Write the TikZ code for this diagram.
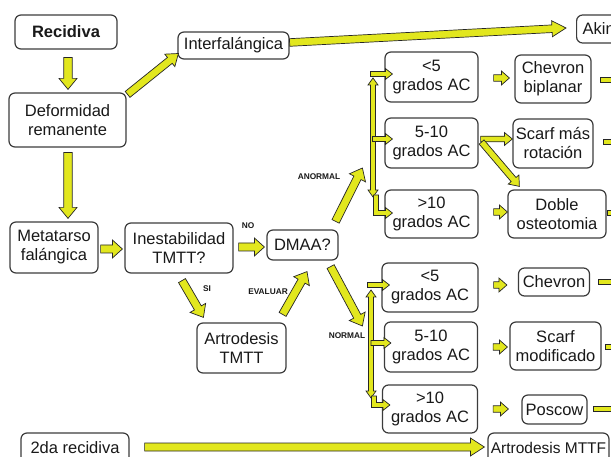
\documentclass[tikz,border=0pt]{standalone}
\usepackage{fontspec}
\setmainfont{Liberation Sans}
\usetikzlibrary{calc}
\definecolor{ayel}{RGB}{226,231,30}
\definecolor{bline}{RGB}{60,60,60}
\definecolor{txt}{RGB}{25,25,25}
\tikzset{
  bx/.style={draw=bline, line width=1.2pt, rounded corners=6pt, fill=white, align=center, text=txt, inner sep=0pt, font=\fontsize{16.5}{19}\selectfont},
  lbl/.style={font=\bfseries\fontsize{8.3}{9}\selectfont, text=txt, inner sep=0pt},
  fat/.style={fill=ayel, draw=black!85, line width=0.7pt, line join=miter},
}
\newcommand\fatarrow[5]{%
  \coordinate (faA) at (#1);
  \coordinate (faB) at (#2);
  \coordinate (faH) at ($(faB)!#5!(faA)$);
  \filldraw[fat] ($(faA)!#3!90:(faB)$) -- ($(faH)!#3!90:(faB)$) -- ($(faH)!#4!90:(faB)$) -- (faB) -- ($(faH)!#4!-90:(faB)$) -- ($(faH)!#3!-90:(faB)$) -- ($(faA)!#3!-90:(faB)$) -- cycle;
}
\newcommand\fatdarrow[5]{%
  \coordinate (faA) at (#1);
  \coordinate (faB) at (#2);
  \coordinate (faH) at ($(faB)!#5!(faA)$);
  \coordinate (faG) at ($(faA)!#5!(faB)$);
  \filldraw[fat] (faA) -- ($(faG)!#4!90:(faB)$) -- ($(faG)!#3!90:(faB)$) -- ($(faH)!#3!90:(faB)$) -- ($(faH)!#4!90:(faB)$) -- (faB) -- ($(faH)!#4!-90:(faB)$) -- ($(faH)!#3!-90:(faB)$) -- ($(faG)!#3!-90:(faB)$) -- ($(faG)!#4!-90:(faB)$) -- cycle;
}
% elbow: down from #1, then right to #2
\newcommand\fatelbow[2]{%
  \filldraw[fat] let \p1=(#1), \p2=(#2) in
    (\x1-2.5pt,\y1) -- (\x1-2.5pt,\y2-2.5pt) -- (\x2-7pt,\y2-2.5pt) -- (\x2-7pt,\y2-5.5pt) -- (\x2,\y2) -- (\x2-7pt,\y2+5.5pt) -- (\x2-7pt,\y2+2.5pt) -- (\x1+2.5pt,\y2+2.5pt) -- (\x1+2.5pt,\y1) -- cycle;
}
\begin{document}
\begin{tikzpicture}[x=1pt,y=-1pt]
\useasboundingbox (0,0) rectangle (611,457);
\clip (0,0) rectangle (611,457);
\fill[white] (0,0) rectangle (611,457);

% nodes
\node[bx, minimum width=102pt, minimum height=34pt, font=\bfseries\fontsize{16.5}{19}\selectfont] (rec) at (66,32) {Recidiva};
\node[bx, minimum width=117pt, minimum height=54pt] (def) at (67.5,120) {Deformidad\\remanente};
\node[bx, minimum width=111pt, minimum height=27pt] (inter) at (233.5,45.5) {Interfalángica};
\node[bx, anchor=west, inner xsep=6pt, minimum height=28pt] (akin) at (576,29) {Akin\hspace{20pt}};
\node[bx, minimum width=88pt, minimum height=51pt] (met) at (54,247.5) {Metatarso\\falángica};
\node[bx, minimum width=108pt, minimum height=50pt] (ine) at (179,248) {Inestabilidad\\TMTT?};
\node[bx, minimum width=71pt, minimum height=30pt] (dmaa) at (302.5,245) {DMAA?};
\node[bx, minimum width=89pt, minimum height=50pt] (art) at (241.5,348) {Artrodesis\\TMTT};

\node[bx, minimum width=93pt, minimum height=50pt] (u1) at (431.5,77) {<5\\grados AC};
\node[bx, minimum width=93pt, minimum height=50pt] (u2) at (431.5,143) {5-10\\grados AC};
\node[bx, minimum width=93pt, minimum height=48pt] (u3) at (431.5,214) {>10\\grados AC};
\node[bx, minimum width=76pt, minimum height=48pt] (cb) at (553,79) {Chevron\\biplanar};
\node[bx, minimum width=80pt, minimum height=49pt] (sm) at (553,143.5) {Scarf más\\rotación};
\node[bx, minimum width=98pt, minimum height=48pt] (do) at (557,214) {Doble\\osteotomia};

\node[bx, minimum width=96pt, minimum height=49pt] (l1) at (430,287.5) {<5\\grados AC};
\node[bx, minimum width=93pt, minimum height=50pt] (l2) at (431,347) {5-10\\grados AC};
\node[bx, minimum width=95pt, minimum height=48pt] (l3) at (430,409) {>10\\grados AC};
\node[bx, minimum width=71pt, minimum height=28pt] (ch) at (554,282) {Chevron};
\node[bx, minimum width=91pt, minimum height=48pt] (smod) at (555.5,346) {Scarf\\modificado};
\node[bx, minimum width=65pt, minimum height=29pt] (pos) at (554.5,409.5) {Poscow};

\node[bx, minimum width=108pt, minimum height=30pt] (r2) at (75,448) {2da recidiva};
\node[bx, minimum width=121pt, minimum height=30pt, font=\fontsize{15.5}{18}\selectfont] (amttf) at (548.5,448) {Artrodesis MTTF};

% labels
\node[lbl] (lno) at (248,226) {NO};
\node[lbl] (lsi) at (207,289) {SI};
\node[lbl] (lev) at (268,292) {EVALUAR};
\node[lbl] (lan) at (319,177) {ANORMAL};
\node[lbl] (lnor) at (347,336) {NORMAL};

% main arrows
\fatarrow{$(rec.south)+(2,8)$}{$(def.north)+(0.5,-3)$}{4.2pt}{9pt}{11pt}
\fatarrow{$(def.south)+(0.5,5)$}{$(met.north)+(14,-3)$}{4.2pt}{9pt}{11pt}
\fatarrow{$(def.north east)+(1,2)$}{$(inter.west)+(1,8)$}{3.8pt}{8pt}{11pt}
\fatarrow{$(inter.east)+(0,-3)$}{$(akin.west)+(-10,-1)$}{3.8pt}{8pt}{14pt}
\fatarrow{$(met.east)+(2,1.5)$}{$(ine.west)+(-2,1)$}{4pt}{9pt}{10pt}
\fatarrow{$(ine.east)+(5,-1)$}{$(dmaa.west)+(-2,2)$}{4pt}{9pt}{10pt}
\fatarrow{$(ine.south)+(3,7)$}{$(art.north west)+(7,-5)$}{4pt}{9pt}{11pt}
\fatarrow{$(art.north east)+(-4,-8)$}{$(dmaa.south)+(4.5,11)$}{4pt}{9pt}{11pt}
\fatarrow{$(dmaa.north east)+(-3,-8)$}{$(u3.west)+(-22,-46)$}{4pt}{9pt}{11pt}
\fatarrow{$(dmaa.south east)+(-8,6)$}{$(l2.west)+(-21.5,-21)$}{4pt}{9pt}{11pt}
\fatarrow{$(r2.east)+(15,-1)$}{$(amttf.west)+(-3,-1)$}{4pt}{9pt}{14pt}

% upper bracket
\coordinate (ubt) at (373,78);
\coordinate (ubb) at (373,197);
\fatdarrow{ubt}{ubb}{2.5pt}{5pt}{7pt}
\fatarrow{$(u1.west)+(-14,-3)$}{$(u1.west)+(8,-3)$}{2.5pt}{5.5pt}{7pt}
\fatarrow{$(u2.west)+(-12,-4)$}{$(u2.west)+(8,-4)$}{2.5pt}{5.5pt}{7pt}
\fatelbow{$(ubb)+(3,-2)$}{$(u3.west)+(8,-1)$}

% lower bracket
\coordinate (lbt) at (371,290);
\coordinate (lbb) at (371,398);
\fatdarrow{lbt}{lbb}{2.5pt}{5pt}{7pt}
\fatarrow{$(l1.west)+(-14,-2.5)$}{$(l1.west)+(8,-2.5)$}{2.5pt}{5.5pt}{7pt}
\fatarrow{$(l2.west)+(-13,-4)$}{$(l2.west)+(7,-4)$}{2.5pt}{5.5pt}{7pt}
\fatelbow{$(lbb)+(3,-2)$}{$(l3.west)+(8,-4)$}

% small arrows
\fatarrow{$(u1.east)+(15,1)$}{$(cb.west)+(-5,-1)$}{3.2pt}{7pt}{8pt}
\fatarrow{$(u2.east)+(2,-4)$}{$(sm.west)+(0,-4.5)$}{2.8pt}{6.5pt}{8pt}
\fatarrow{$(u2.east)+(3,-1)$}{$(do.north west)+(12,-3)$}{3.2pt}{7pt}{9pt}
\fatarrow{$(u3.east)+(15,-2)$}{$(do.west)+(0,-2)$}{3.2pt}{7pt}{8pt}
\fatarrow{$(l1.east)+(15,-2.5)$}{$(ch.west)+(-11,3)$}{3.2pt}{7pt}{8pt}
\fatarrow{$(l2.east)+(15,0)$}{$(smod.west)+(-2,1)$}{3.2pt}{7pt}{8pt}
\fatarrow{$(l3.east)+(15,0)$}{$(pos.west)+(-13,-0.5)$}{3.2pt}{7pt}{8pt}

% stubs to the right edge
\filldraw[fat] ($(cb.east)+(9,-1.5)$) rectangle ($(cb.east)+(40,3.5)$);
\filldraw[fat] ($(sm.east)+(10,-4)$) rectangle ($(sm.east)+(40,1)$);
\filldraw[fat] ($(do.east)+(1,-3.5)$) rectangle ($(do.east)+(40,1.5)$);
\filldraw[fat] ($(ch.east)+(8,-2.5)$) rectangle ($(ch.east)+(40,2.5)$);
\filldraw[fat] ($(smod.east)+(4,-1.5)$) rectangle ($(smod.east)+(40,3.5)$);
\filldraw[fat] ($(pos.east)+(6,-3)$) rectangle ($(pos.east)+(40,2)$);
\end{tikzpicture}
\end{document}
